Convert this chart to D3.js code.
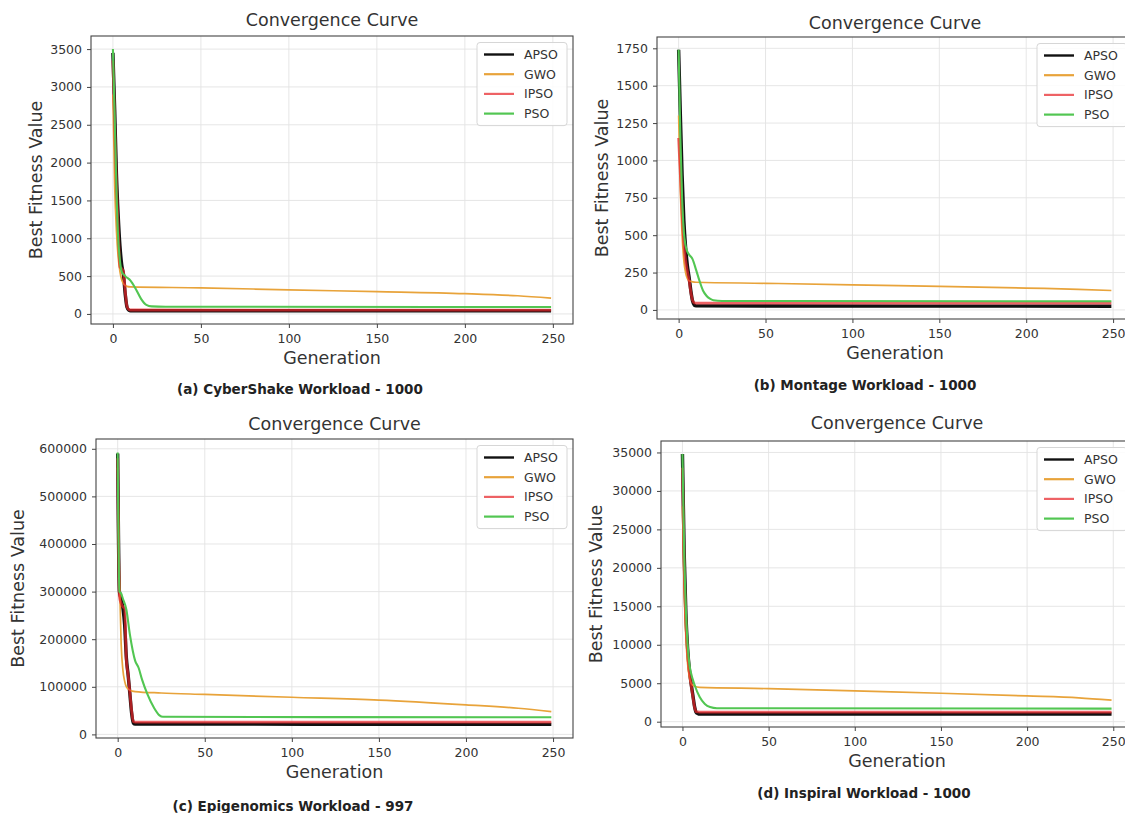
<!DOCTYPE html>
<html lang="en">
<head>
<meta charset="UTF-8" />
<title>Convergence Curves</title>
<script src="https://d3js.org/d3.v7.min.js"></script>
<style>
body {
    margin: 0;
    padding: 0;
    background: #fff;
    font-family: "DejaVu Sans", sans-serif;
}
svg {
    display: block;
}
.tick text {
    font-family: "DejaVu Sans", sans-serif;
    font-size: 12.5px;
    fill: #333;
}
.tick line {
    stroke: #444;
}
.grid line {
    stroke: #e3e3e3;
    stroke-width: 0.9;
}
.title, .axis-label {
    font-size: 17.5px;
    fill: #333;
}
.caption {
    font-size: 13.5px;
    font-weight: bold;
    fill: #222;
}
.legend text {
    font-size: 12.5px;
    fill: #333;
}
</style>
</head>
<body>
<svg width="1125" height="813"></svg>
<script>
// algorithms and colours
const algorithms = ["APSO", "GWO", "IPSO", "PSO"];
const captions = [
    "(a) CyberShake Workload - 1000",
    "(b) Montage Workload - 1000",
    "(c) Epigenomics Workload - 997",
    "(d) Inspiral Workload - 1000"
];
const genTicks = [0, 50, 100, 150, 200, 250];

// (a) CyberShake  [generation, best fitness]
const cyberApso = [[0,3450],[1,2700],[2,1850],[3,1300],[4,900],[5,650],[6,520],[7,260],[8,90],[9,50],[10,42],[249,40]];
const cyberGwo = [[0,2900],[1,1700],[2,1100],[3,750],[4,560],[5,450],[6,400],[8,365],[10,358],[50,345],[100,318],[150,295],[200,268],[230,240],[249,210]];
const cyberIpso = [[0,3350],[1,2500],[2,1700],[3,1150],[4,620],[5,600],[6,560],[7,300],[8,100],[9,60],[10,52],[249,50]];
const cyberPso = [[0,3500],[1,2600],[2,1650],[3,1000],[4,700],[5,560],[7,500],[10,440],[13,330],[16,200],[19,120],[22,100],[30,95],[249,92]];
const cyberTicks = [0, 500, 1000, 1500, 2000, 2500, 3000, 3500];

// (b) Montage
const montageApso = [[0,1740],[1,1300],[2,900],[3,600],[4,420],[5,300],[6,220],[7,130],[8,60],[9,32],[10,27],[249,25]];
const montageGwo = [[0,1300],[1,800],[2,500],[3,330],[4,250],[5,210],[6,195],[8,188],[10,185],[50,178],[100,168],[150,158],[200,146],[230,138],[249,130]];
const montageIpso = [[0,1150],[1,900],[2,650],[3,450],[4,330],[5,260],[6,200],[7,120],[8,65],[9,48],[10,45],[249,45]];
const montagePso = [[0,1740],[1,1150],[2,750],[3,520],[4,430],[5,390],[6,370],[8,340],[10,270],[12,195],[14,130],[16,95],[18,75],[20,65],[25,60],[249,58]];
const montageTicks = [0, 250, 500, 750, 1000, 1250, 1500, 1750];

// (c) Epigenomics
const epiApso = [[0,590000],[1,300000],[2,285000],[3,265000],[4,230000],[5,160000],[6,125000],[7,85000],[8,45000],[9,24000],[10,22000],[249,21000]];
const epiGwo = [[0,560000],[1,330000],[2,190000],[3,135000],[4,112000],[5,100000],[7,93000],[10,90000],[25,87000],[50,84000],[100,78000],[150,72000],[200,62000],[230,55000],[249,48000]];
const epiIpso = [[0,580000],[1,290000],[2,275000],[3,268000],[4,265000],[5,155000],[6,125000],[7,88000],[8,50000],[9,27000],[10,26000],[249,26000]];
const epiPso = [[0,592000],[1,300000],[2,296000],[3,285000],[5,262000],[7,210000],[10,155000],[12,140000],[14,115000],[17,85000],[21,55000],[24,40000],[26,37000],[249,36000]];
const epiTicks = [0, 100000, 200000, 300000, 400000, 500000, 600000];

// (d) Inspiral
const inspiralApso = [[0,34800],[1,22000],[2,14000],[3,9500],[4,6800],[5,5000],[6,3500],[7,2000],[8,1200],[9,1050],[10,1000],[249,1000]];
const inspiralGwo = [[0,28000],[1,17000],[2,11000],[3,7500],[4,5800],[5,5000],[7,4600],[10,4450],[50,4300],[100,4000],[150,3700],[200,3350],[230,3100],[249,2800]];
const inspiralIpso = [[0,33000],[1,20000],[2,13000],[3,9000],[4,6500],[5,4800],[6,3300],[7,1900],[8,1300],[10,1250],[249,1250]];
const inspiralPso = [[0,34800],[1,22000],[2,14500],[3,10000],[4,7500],[5,6300],[7,4800],[10,3200],[13,2300],[16,1900],[20,1750],[249,1700]];
const inspiralTicks = [0, 5000, 10000, 15000, 20000, 25000, 30000, 35000];

const styles = {
    APSO: { color: "#111111", width: 3.4, opacity: 1 },
    GWO: { color: "#e8a33a", width: 1.7, opacity: 1 },
    IPSO: { color: "#e8262a", width: 2.8, opacity: 0.72 },
    PSO: { color: "#52c652", width: 2.1, opacity: 1 }
};

// box = left, top, right, bottom of the axes
const panels = [
    { series: [cyberApso, cyberGwo, cyberIpso, cyberPso], ticks: cyberTicks,
      box: [91, 36, 573, 324], titleY: 26, ylabX: 36, capX: 300, capY: 394 },
    { series: [montageApso, montageGwo, montageIpso, montagePso], ticks: montageTicks,
      box: [657, 37, 1133, 319], titleY: 29, ylabX: 602, capX: 865, capY: 390 },
    { series: [epiApso, epiGwo, epiIpso, epiPso], ticks: epiTicks,
      box: [96, 439, 573, 738], titleY: 430, ylabX: 18, capX: 293, capY: 811 },
    { series: [inspiralApso, inspiralGwo, inspiralIpso, inspiralPso], ticks: inspiralTicks,
      box: [661, 441, 1133, 727], titleY: 429, ylabX: 596, capX: 864, capY: 798 }
];

const svg = d3.select("svg");
svg.append("rect").attr("width", 1125).attr("height", 813).attr("fill", "#fff");

panels.forEach((p, i) => {
    const [left, top, right, bottom] = p.box;
    const all = p.series.flat().map(d => d[1]);
    const lo = d3.min(all), hi = d3.max(all);
    const pad = (hi - lo) * 0.05;

    const x = d3.scaleLinear().domain([-12.45, 261.45]).range([left, right]);
    const y = d3.scaleLinear().domain([lo - pad, hi + pad]).range([bottom, top]);

    const g = svg.append("g");

    // grid
    const grid = g.append("g").attr("class", "grid");
    grid.selectAll(".gx").data(genTicks).enter().append("line")
        .attr("x1", d => x(d)).attr("x2", d => x(d))
        .attr("y1", top).attr("y2", bottom);
    grid.selectAll(".gy").data(p.ticks).enter().append("line")
        .attr("x1", left).attr("x2", right)
        .attr("y1", d => y(d)).attr("y2", d => y(d));

    // lines
    const clipId = "clip" + i;
    svg.append("clipPath").attr("id", clipId).append("rect")
        .attr("x", left).attr("y", top).attr("width", right - left).attr("height", bottom - top);

    const line = d3.line()
        .x(d => x(d[0]))
        .y(d => y(d[1]))
        .curve(d3.curveMonotoneX);

    p.series.forEach((s, k) => {
        const st = styles[algorithms[k]];
        g.append("path")
            .datum(s)
            .attr("d", line)
            .attr("clip-path", `url(#${clipId})`)
            .style("fill", "none")
            .style("stroke", st.color)
            .style("stroke-width", st.width)
            .style("stroke-opacity", st.opacity)
            .style("stroke-linejoin", "round");
    });

    // frame
    g.append("rect")
        .attr("x", left).attr("y", top)
        .attr("width", right - left).attr("height", bottom - top)
        .attr("fill", "none").attr("stroke", "#444").attr("stroke-width", 1.1);

    // axes
    const xAxis = d3.axisBottom(x).tickValues(genTicks).tickSize(4).tickPadding(6).tickFormat(d3.format("d"));
    const yAxis = d3.axisLeft(y).tickValues(p.ticks).tickSize(4).tickPadding(5).tickFormat(d3.format("d"));
    g.append("g").attr("transform", `translate(0,${bottom})`).call(xAxis)
        .call(a => a.select(".domain").remove());
    g.append("g").attr("transform", `translate(${left},0)`).call(yAxis)
        .call(a => a.select(".domain").remove());

    const cx = (left + right) / 2;
    g.append("text").attr("class", "title")
        .attr("x", cx).attr("y", p.titleY)
        .attr("text-anchor", "middle").text("Convergence Curve");
    g.append("text").attr("class", "axis-label")
        .attr("x", cx).attr("y", bottom + 39.5)
        .attr("text-anchor", "middle").text("Generation");
    g.append("text").attr("class", "axis-label")
        .attr("transform", `translate(${p.ylabX},${(top + bottom) / 2}) rotate(-90)`)
        .attr("dy", "0.35em")
        .attr("text-anchor", "middle").text("Best Fitness Value");
    g.append("text").attr("class", "caption")
        .attr("x", p.capX).attr("y", p.capY)
        .attr("text-anchor", "middle").text(captions[i]);

    // legend
    const lx = right - 89;
    const ly = top + 18.5;
    const leg = g.append("g").attr("class", "legend");
    leg.append("rect")
        .attr("x", lx - 7).attr("y", ly - 12)
        .attr("width", 90).attr("height", 3 * 19.7 + 24)
        .attr("rx", 3)
        .attr("fill", "#fff").attr("fill-opacity", 0.85)
        .attr("stroke", "#d6d6d6");
    algorithms.forEach((name, k) => {
        const st = styles[name];
        const yy = ly + k * 19.7;
        leg.append("line")
            .attr("x1", lx).attr("x2", lx + 30)
            .attr("y1", yy).attr("y2", yy)
            .style("stroke", st.color)
            .style("stroke-width", name === "APSO" ? 2.4 : 2.2)
            .style("stroke-opacity", st.opacity);
        leg.append("text")
            .attr("x", lx + 40).attr("y", yy + 4.5)
            .text(name);
    });
});
</script>
</body>
</html>
